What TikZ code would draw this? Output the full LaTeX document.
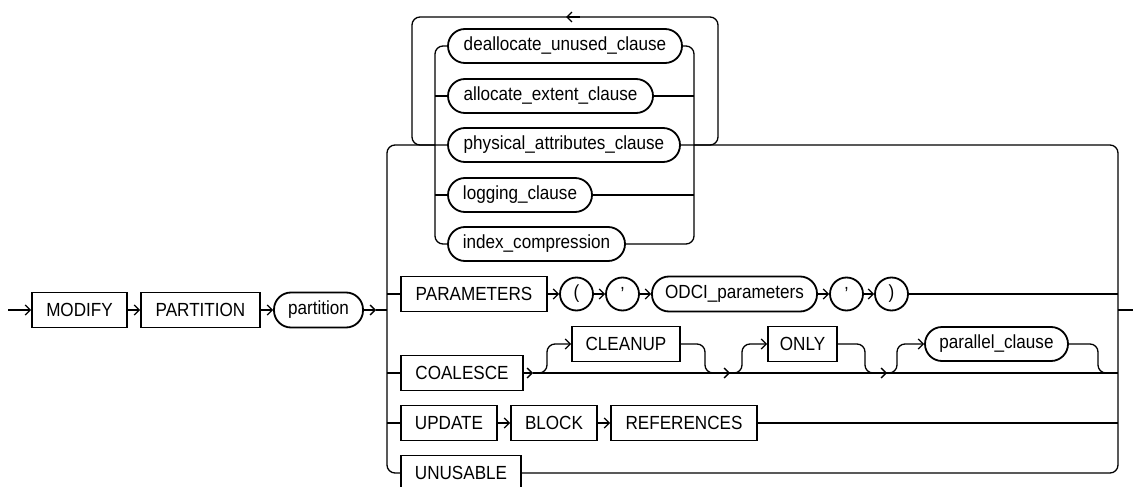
\documentclass[tikz,border=0pt]{standalone}
\usepackage{fontspec}
\setmainfont{Liberation Sans}[FakeStretch=0.9]
\usetikzlibrary{arrows.meta}
\begin{document}
\begin{tikzpicture}[x=1pt,y=-1pt,
  line width=1.3pt,
  every node/.style={font=\fontsize{19}{22}\selectfont, inner sep=0pt},
  kw/.style={draw, rectangle, line width=1.8pt, minimum height=35pt},
  nt/.style={draw, rectangle, rounded corners=17pt, line width=1.8pt, minimum height=34pt},
  ch/.style={draw, circle, line width=1.8pt, minimum size=33pt},
  arr/.style={-{Straight Barb[length=5pt,width=10pt]}},
  rc/.style={rounded corners=8pt}]
\useasboundingbox (0,0) rectangle (1133,487);

% main line
\coordinate (s) at (8,310);
\node[kw,minimum width=95pt] (modify) at (79.5,310) {MODIFY};
\node[kw,minimum width=119pt] (partkw) at (200.5,310) {PARTITION};
\node[nt,minimum width=89pt,minimum height=35pt] (part) at (318.5,310) {partition};
\coordinate (ptip) at (376,310);
\coordinate (L) at (387,310);
\coordinate (R) at (1118,310);
\coordinate (e) at (1133,310);

\draw[arr] (s) -- (modify.west);
\draw[arr] (modify.east) -- (partkw.west);
\draw[arr] (partkw.east) -- (part.west);
\draw[arr] (part.east) -- (ptip);
\draw (ptip) -- (L);
\draw (R) -- (e);

% attribute clauses (inner choice)
\node[nt,minimum width=234pt] (deal) at (565,46) {deallocate\_unused\_clause};
\node[nt,minimum width=205pt] (alloc) at (550.5,96) {allocate\_extent\_clause};
\node[nt,minimum width=232pt] (phys) at (564,145) {physical\_attributes\_clause};
\node[nt,minimum width=144pt] (logg) at (520,195) {logging\_clause};
\node[nt,minimum width=177pt] (idx) at (536.5,244) {index\_compression};

\coordinate (il) at (435,145);
\coordinate (ir) at (694,145);
\draw[rc] (il) |- (deal.west);
\draw[rc] (il) |- (idx.west);
\draw (alloc.west -| il) -- (alloc.west);
\draw (logg.west -| il) -- (logg.west);
\draw[rc] (deal.east) -| (ir);
\draw[rc] (idx.east) -| (ir);
\draw (alloc.east) -- (alloc.east -| ir);
\draw (logg.east) -- (logg.east -| ir);

% repeat loop
\coordinate (lpl) at (412,145);
\coordinate (lpr) at (718,145);
\coordinate (lptl) at (412,17);
\coordinate (lptr) at (718,17);
\draw[rc] (ir) -- (lpr) -- (lptr) -- (lptl) -- (lpl) -- (il);
\coordinate (la1) at (580,17);
\coordinate (la2) at (566,17);
\draw[arr] (la1) -- (la2);

% main choice frame
\node[kw,minimum width=120pt] (unus) at (461,473) {UNUSABLE};
\coordinate (tl) at (387,145);
\coordinate (bl) at (387,473);
\coordinate (tr) at (1118,145);
\coordinate (br) at (1118,473);
\draw[rc] (phys.west) -- (tl) -- (bl) -- (unus.west);
\draw[rc] (phys.east) -- (tr) -- (br) -- (unus.east);

% PARAMETERS row
\node[kw,minimum width=146pt] (params) at (474,294) {PARAMETERS};
\node[ch] (lp) at (576.5,294) {(};
\node[ch] (q1) at (622.5,294) {'};
\node[nt,minimum width=165pt,minimum height=35pt] (odci) at (734.5,294) {ODCI\_parameters};
\node[ch] (q2) at (846.5,294) {'};
\node[ch] (rp) at (891.5,294) {)};
\draw (params.west -| L) -- (params.west);
\draw[arr] (params) -- (lp);
\draw[arr] (lp) -- (q1);
\draw[arr] (q1) -- (odci);
\draw[arr] (odci) -- (q2);
\draw[arr] (q2) -- (rp);
\draw (rp.east) -- (rp.east -| R);

% COALESCE row
\node[kw,minimum width=122pt] (coal) at (462,373) {COALESCE};
\node[kw,minimum width=108pt] (clean) at (626,344) {CLEANUP};
\node[kw,minimum width=69pt] (only) at (802.5,344) {ONLY};
\node[nt,minimum width=143pt] (par) at (996.5,344) {parallel\_clause};
\coordinate (c1) at (533,373);
\coordinate (c2) at (730,373);
\coordinate (c3) at (887,373);
\coordinate (c4) at (1110,373);
\coordinate (b1) at (547,373);
\coordinate (b2) at (705,373);
\coordinate (b3) at (742,373);
\coordinate (b4) at (865,373);
\coordinate (b5) at (897,373);
\coordinate (b6) at (1098,373);
\draw (coal.west -| L) -- (coal.west);
\draw[arr] (coal.east) -- (c1);
\draw (c1) -- (c1 -| R);
\draw[rc,arr] (c1) -- (b1) -- (clean.west -| b1) -- (clean.west);
\draw[rc,arr] (clean.east) -- (clean.east -| b2) -- (b2) -- (c2);
\draw[rc,arr] (c2) -- (b3) -- (only.west -| b3) -- (only.west);
\draw[rc,arr] (only.east) -- (only.east -| b4) -- (b4) -- (c3);
\draw[rc,arr] (c3) -- (b5) -- (par.west -| b5) -- (par.west);
\draw[rc] (par.east) -- (par.east -| b6) -- (b6) -- (c4);

% UPDATE row
\node[kw,minimum width=96pt] (upd) at (449,423) {UPDATE};
\node[kw,minimum width=86pt] (blk) at (554,423) {BLOCK};
\node[kw,minimum width=146pt] (refs) at (684,423) {REFERENCES};
\draw (upd.west -| L) -- (upd.west);
\draw[arr] (upd) -- (blk);
\draw[arr] (blk) -- (refs);
\draw (refs.east) -- (refs.east -| R);
\end{tikzpicture}
\end{document}
